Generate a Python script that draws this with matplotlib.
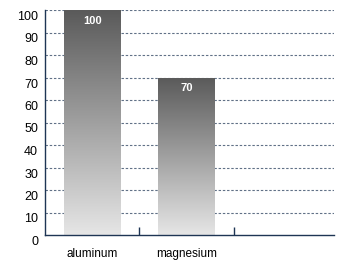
import numpy as np
import matplotlib
matplotlib.use("Agg")
import matplotlib.pyplot as plt
import matplotlib.transforms as mtransforms

# chart data
categories = ["aluminum", "magnesium"]
values = [100, 70]
yticks = [0, 10, 20, 30, 40, 50, 60, 70, 80, 90, 100]

plt.rcParams['font.family'] = ['Liberation Sans', 'DejaVu Sans']
navy = "#1e3554"

fig = plt.figure(figsize=(3.41, 2.64), dpi=100)
ax = fig.add_axes([45 / 341, 29 / 264, 289 / 341, 225 / 264])

xs = np.arange(len(categories))

# dashed grid behind the bars
for y in yticks[1:]:
    ax.axhline(y, color=navy, lw=0.8, ls=(0, (2.2, 1.6)), zorder=1, alpha=0.7)

# gradient bars (dark top, light bottom)
grad = np.linspace(0, 1, 256).reshape(-1, 1)
cmap = matplotlib.colors.LinearSegmentedColormap.from_list("g", ["#e6e6e6", "#5a5a5a"])
width = 0.6
for x, v in zip(xs, values):
    bar = ax.bar(x, v, width=width, color="none", edgecolor="none", zorder=2)[0]
    im = ax.imshow(grad, extent=[x - width / 2, x + width / 2, 0, v], origin="lower",
                   cmap=cmap, aspect="auto", zorder=2, vmin=0, vmax=1)
    im.set_clip_path(bar)
    ax.text(x, v - 4.8, str(v), color="white", fontsize=8, fontweight="bold",
            ha="center", va="center", zorder=3)

ax.set_xlim(-0.5, 2.56)
ax.set_ylim(0, 100)

# axes styling
for s in ["top", "right"]:
    ax.spines[s].set_visible(False)
for s in ["left", "bottom"]:
    ax.spines[s].set_color(navy)
    ax.spines[s].set_linewidth(1.0)

ax.set_yticks(yticks)
ax.set_yticklabels([str(t) for t in yticks], fontsize=9)
ax.tick_params(axis="y", length=0, pad=5)
offset = mtransforms.ScaledTranslation(0, -5.5 / 100, fig.dpi_scale_trans)
for lab in ax.get_yticklabels():
    lab.set_transform(lab.get_transform() + offset)

# separators between categories on the x axis
ax.set_xticks([0.5, 1.5])
ax.set_xticklabels([])
ax.tick_params(axis="x", direction="in", length=6, color=navy, width=1)
for x, c in zip(xs, categories):
    ax.text(x, -8.5, c, fontsize=8.5, ha="center", va="center")

fig.savefig("out.png", dpi=100)
